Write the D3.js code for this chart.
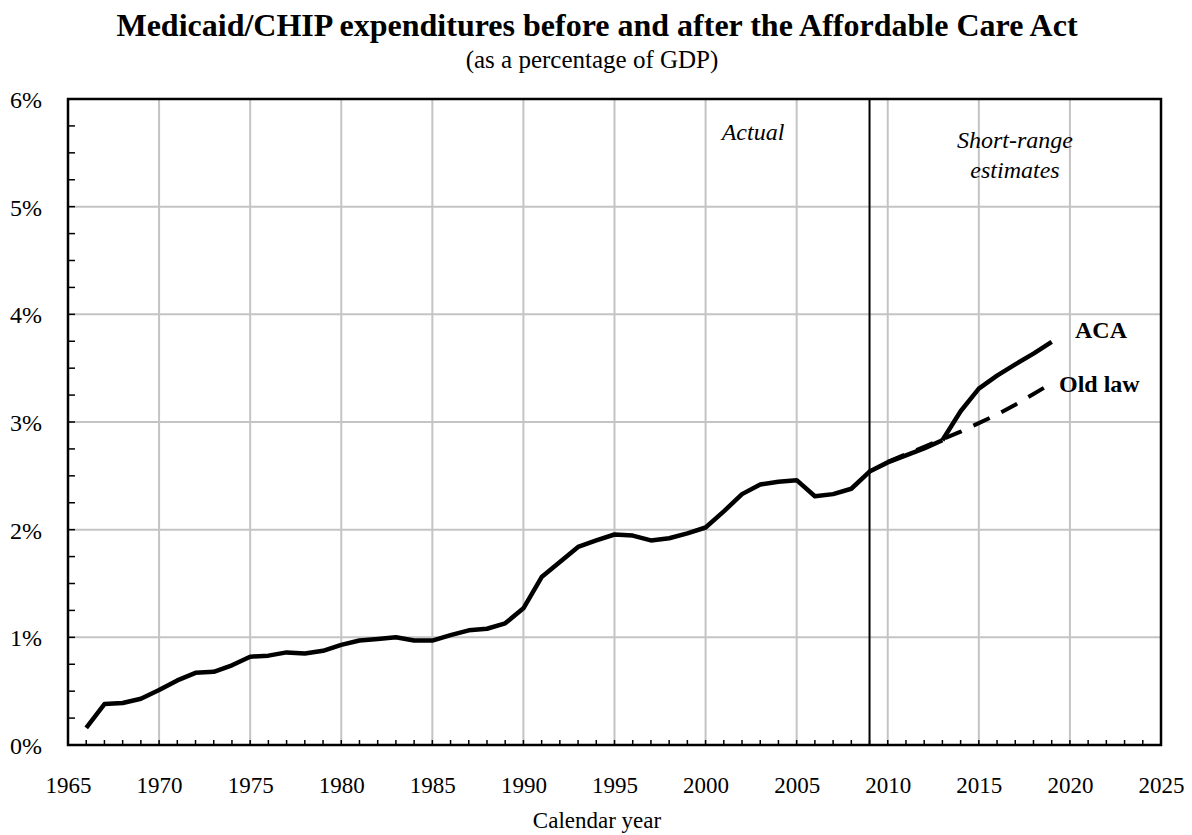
<!DOCTYPE html>
<html>
<head>
  <meta charset="utf-8">
  <title>Medicaid/CHIP expenditures</title>
  <script src="https://d3js.org/d3.v7.min.js"></script>
  <style>
    body { margin: 0; background: #fff; }
    text { font-family: "Liberation Serif", "Times New Roman", serif; fill: #000; }
  </style>
</head>
<body>
  <svg width="1192" height="835"></svg>
  <script>
    // Actual data, 1966-2013 (% of GDP)
    const actualYears = d3.range(1966, 2014);
    const actualValues = [
      0.16, 0.38, 0.39, 0.43, 0.51, 0.60, 0.67, 0.68, 0.74, 0.82,
      0.83, 0.86, 0.85, 0.875, 0.93, 0.97, 0.985, 1.00, 0.97, 0.97,
      1.02, 1.065, 1.08, 1.13, 1.27, 1.56, 1.70, 1.84, 1.90, 1.955,
      1.945, 1.90, 1.92, 1.965, 2.02, 2.17, 2.33, 2.42, 2.445, 2.46,
      2.31, 2.33, 2.38, 2.54, 2.625, 2.69, 2.755, 2.83
    ];
    // ACA projection, 2013-2019
    const acaYears = [2013, 2014, 2015, 2016, 2017, 2018, 2019];
    const acaValues = [2.83, 3.10, 3.31, 3.43, 3.535, 3.635, 3.745];
    // Old-law projection, 2010-2019
    const oldYears = [2010, 2011, 2012, 2013, 2014, 2015, 2016, 2017, 2018, 2019];
    const oldValues = [2.63, 2.70, 2.77, 2.84, 2.91, 2.99, 3.07, 3.16, 3.26, 3.36];

    const xTicks = d3.range(1965, 2026, 5);
    const yTicks = [0, 1, 2, 3, 4, 5, 6];

    const margin = { top: 99, left: 68 };
    const width = 1161 - margin.left;
    const height = 745 - margin.top;

    const svg = d3.select("svg");
    const g = svg.append("g")
      .attr("transform", `translate(${margin.left},${margin.top})`);

    const x = d3.scaleLinear().domain([1965, 2025]).range([0, width]);
    const y = d3.scaleLinear().domain([0, 6]).range([height, 0]);

    // gridlines
    g.append("g").selectAll("line")
      .data(xTicks.slice(1, -1))
      .join("line")
      .attr("x1", d => x(d)).attr("x2", d => x(d))
      .attr("y1", 0).attr("y2", height)
      .attr("stroke", "#c4c4c4").attr("stroke-width", 2);
    g.append("g").selectAll("line")
      .data(yTicks.slice(1, -1))
      .join("line")
      .attr("x1", 0).attr("x2", width)
      .attr("y1", d => y(d)).attr("y2", d => y(d))
      .attr("stroke", "#c4c4c4").attr("stroke-width", 2);

    // minor ticks (inside)
    g.append("g").selectAll("line")
      .data(d3.range(1966, 2025))
      .join("line")
      .attr("x1", d => x(d)).attr("x2", d => x(d))
      .attr("y1", height).attr("y2", height - 5)
      .attr("stroke", "#000").attr("stroke-width", 1.5);
    g.append("g").selectAll("line")
      .data(d3.range(0.25, 6, 0.25))
      .join("line")
      .attr("x1", 0).attr("x2", 7)
      .attr("y1", d => y(d)).attr("y2", d => y(d))
      .attr("stroke", "#000").attr("stroke-width", 1.5);

    // axis labels
    const xAxis = g.append("g")
      .attr("transform", `translate(0,${height})`)
      .call(d3.axisBottom(x).tickValues(xTicks).tickFormat(d3.format("d")).tickSize(0).tickPadding(32));
    xAxis.select(".domain").remove();
    xAxis.selectAll("text").style("font-size", "23px").style("font-family", "Liberation Serif");

    const yAxis = g.append("g")
      .call(d3.axisLeft(y).tickValues(yTicks).tickFormat(d => d + "%").tickSize(0).tickPadding(26));
    yAxis.select(".domain").remove();
    yAxis.selectAll("text").style("font-size", "24px").style("font-family", "Liberation Serif")
      .attr("dy", "0.36em");

    // ACA vertical marker at 2009
    g.append("line")
      .attr("x1", x(2009)).attr("x2", x(2009))
      .attr("y1", 0).attr("y2", height)
      .attr("stroke", "#000").attr("stroke-width", 2);

    // frame
    g.append("rect")
      .attr("width", width).attr("height", height)
      .attr("fill", "none").attr("stroke", "#000").attr("stroke-width", 2.5);

    const line = d3.line().x(d => x(d[0])).y(d => y(d[1]));

    g.append("path")
      .datum(oldYears.map((d, i) => [d, oldValues[i]]))
      .attr("d", line)
      .attr("fill", "none").attr("stroke", "#000").attr("stroke-width", 4)
      .attr("stroke-dasharray", "18,13");

    g.append("path")
      .datum(actualYears.map((d, i) => [d, actualValues[i]]))
      .attr("d", line)
      .attr("fill", "none").attr("stroke", "#000").attr("stroke-width", 4.5)
      .attr("stroke-linejoin", "round");

    g.append("path")
      .datum(acaYears.map((d, i) => [d, acaValues[i]]))
      .attr("d", line)
      .attr("fill", "none").attr("stroke", "#000").attr("stroke-width", 4.5)
      .attr("stroke-linejoin", "round");

    // series labels
    svg.append("text")
      .attr("x", 1075).attr("y", 338)
      .style("font-size", "24px").style("font-weight", "bold")
      .text("ACA");
    svg.append("text")
      .attr("x", 1059).attr("y", 392)
      .style("font-size", "24px").style("font-weight", "bold")
      .text("Old law");

    // section labels
    svg.append("text")
      .attr("x", 753).attr("y", 140)
      .attr("text-anchor", "middle")
      .style("font-size", "24px").style("font-style", "italic")
      .text("Actual");
    svg.append("text")
      .attr("x", 1015).attr("y", 148)
      .attr("text-anchor", "middle")
      .style("font-size", "24px").style("font-style", "italic")
      .text("Short-range");
    svg.append("text")
      .attr("x", 1015).attr("y", 178)
      .attr("text-anchor", "middle")
      .style("font-size", "24px").style("font-style", "italic")
      .text("estimates");

    // titles
    svg.append("text")
      .attr("x", 597).attr("y", 36)
      .attr("text-anchor", "middle")
      .style("font-size", "32px").style("font-weight", "bold")
      .text("Medicaid/CHIP expenditures before and after the Affordable Care Act");
    svg.append("text")
      .attr("x", 592).attr("y", 68)
      .attr("text-anchor", "middle")
      .style("font-size", "25px")
      .text("(as a percentage of GDP)");
    svg.append("text")
      .attr("x", 597).attr("y", 828)
      .attr("text-anchor", "middle")
      .style("font-size", "23px")
      .text("Calendar year");
  </script>
</body>
</html>
